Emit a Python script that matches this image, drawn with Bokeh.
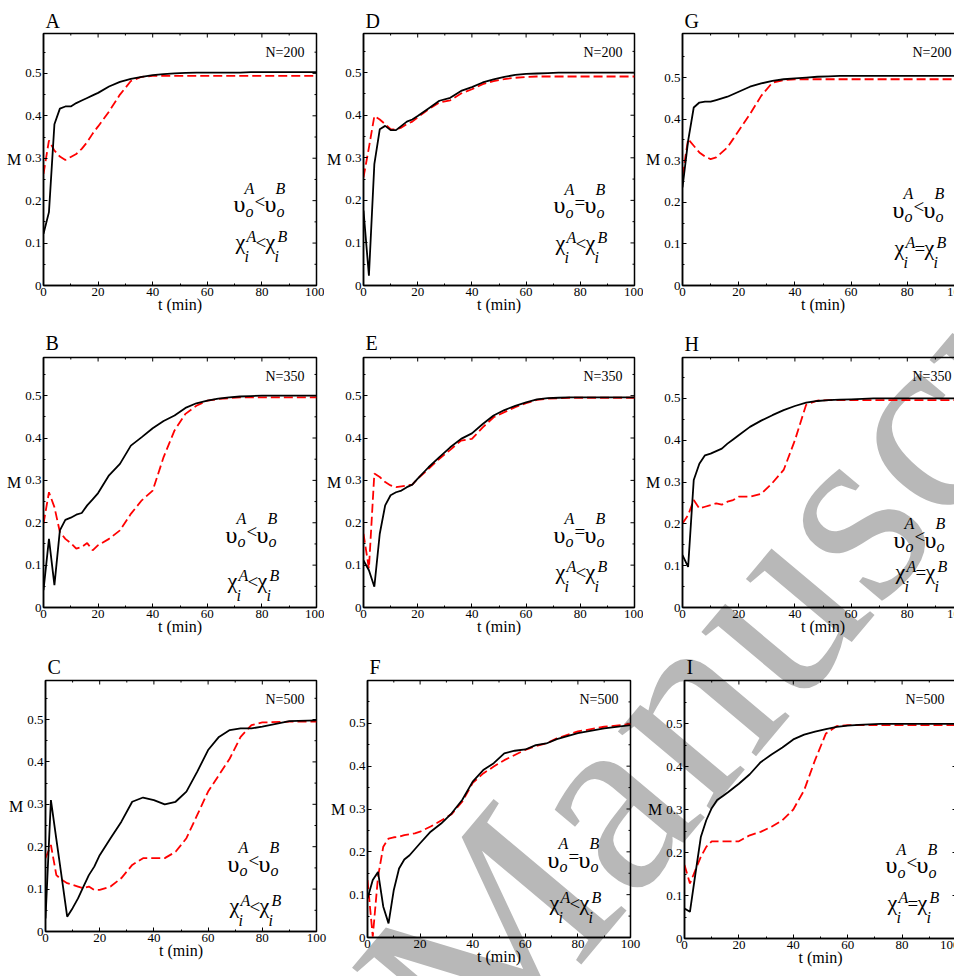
import math
from bokeh.plotting import figure
from bokeh.layouts import column, row
from bokeh.models import Label, FixedTicker, Range1d
from bokeh.core.properties import value
from bokeh.embed import file_html
from bokeh.resources import INLINE

# ---------------- data ----------------
t = [0, 2, 4, 6, 8, 10, 12, 14, 16, 18, 20, 24, 28, 32, 36, 40, 44, 48, 52, 56,
     60, 64, 68, 72, 76, 80, 90, 100]

a_black = [0.122, 0.173, 0.380, 0.417, 0.422, 0.422, 0.430, 0.436, 0.442, 0.448, 0.454, 0.469, 0.480, 0.487,
           0.492, 0.496, 0.498, 0.500, 0.501, 0.502, 0.502, 0.502, 0.502, 0.502, 0.503, 0.503, 0.503, 0.503]
a_red = [0.263, 0.342, 0.318, 0.304, 0.296, 0.303, 0.310, 0.322, 0.338, 0.358, 0.375, 0.410, 0.450, 0.482,
         0.492, 0.494, 0.494, 0.494, 0.494, 0.494, 0.494, 0.494, 0.494, 0.494, 0.494, 0.494, 0.494, 0.494]

b_black = [0.041, 0.162, 0.053, 0.182, 0.207, 0.212, 0.219, 0.223, 0.241, 0.255, 0.270, 0.312, 0.339, 0.382,
           0.402, 0.423, 0.440, 0.453, 0.471, 0.482, 0.488, 0.493, 0.496, 0.498, 0.499, 0.500, 0.500, 0.500]
b_red = [0.198, 0.272, 0.237, 0.178, 0.162, 0.152, 0.139, 0.143, 0.152, 0.135, 0.147, 0.162, 0.182, 0.221,
         0.253, 0.276, 0.355, 0.418, 0.457, 0.476, 0.488, 0.492, 0.494, 0.496, 0.496, 0.496, 0.496, 0.496]

c_black = [0.031, 0.310, 0.218, 0.127, 0.035, 0.055, 0.078, 0.106, 0.133, 0.153, 0.180, 0.220, 0.259, 0.306,
           0.316, 0.310, 0.300, 0.306, 0.330, 0.377, 0.428, 0.459, 0.475, 0.479, 0.479, 0.483, 0.496, 0.498]
c_red = [0.173, 0.204, 0.133, 0.122, 0.114, 0.110, 0.106, 0.102, 0.106, 0.098, 0.098, 0.106, 0.126, 0.157,
         0.173, 0.173, 0.173, 0.188, 0.220, 0.275, 0.330, 0.369, 0.408, 0.459, 0.487, 0.493, 0.495, 0.495]

d_black = [0.176, 0.023, 0.285, 0.367, 0.375, 0.365, 0.365, 0.375, 0.385, 0.390, 0.398, 0.416, 0.434, 0.441,
           0.457, 0.466, 0.477, 0.484, 0.490, 0.495, 0.497, 0.498, 0.499, 0.500, 0.500, 0.500, 0.500, 0.500]
d_red = [0.254, 0.324, 0.398, 0.390, 0.379, 0.367, 0.367, 0.371, 0.379, 0.385, 0.395, 0.414, 0.430, 0.435,
         0.451, 0.461, 0.473, 0.480, 0.485, 0.488, 0.490, 0.491, 0.491, 0.491, 0.491, 0.491, 0.491, 0.491]

e_black = [0.111, 0.088, 0.049, 0.174, 0.241, 0.265, 0.272, 0.276, 0.284, 0.290, 0.304, 0.331, 0.355, 0.378,
           0.398, 0.411, 0.433, 0.453, 0.466, 0.476, 0.484, 0.491, 0.494, 0.495, 0.496, 0.496, 0.496, 0.496]
e_red = [0.174, 0.092, 0.316, 0.308, 0.296, 0.288, 0.284, 0.286, 0.288, 0.290, 0.304, 0.327, 0.351, 0.372,
         0.394, 0.398, 0.425, 0.449, 0.461, 0.473, 0.482, 0.490, 0.493, 0.494, 0.495, 0.495, 0.495, 0.495]

f_black = [0.091, 0.134, 0.153, 0.072, 0.033, 0.111, 0.161, 0.182, 0.192, 0.206, 0.220, 0.247, 0.266, 0.290,
           0.321, 0.364, 0.391, 0.407, 0.430, 0.436, 0.439, 0.449, 0.453, 0.463, 0.470, 0.477, 0.488, 0.496]
f_red = [0.134, 0.002, 0.142, 0.212, 0.231, 0.234, 0.235, 0.239, 0.241, 0.243, 0.247, 0.259, 0.273, 0.288,
         0.317, 0.361, 0.383, 0.399, 0.414, 0.426, 0.438, 0.447, 0.453, 0.465, 0.473, 0.481, 0.492, 0.498]

g_black = [0.236, 0.348, 0.428, 0.440, 0.442, 0.442, 0.446, 0.450, 0.454, 0.460, 0.466, 0.478, 0.486, 0.492,
           0.496, 0.498, 0.500, 0.502, 0.503, 0.504, 0.504, 0.504, 0.504, 0.504, 0.504, 0.504, 0.504, 0.504]
g_red = [0.264, 0.352, 0.336, 0.320, 0.310, 0.304, 0.308, 0.320, 0.332, 0.352, 0.372, 0.412, 0.456, 0.488,
         0.494, 0.496, 0.496, 0.496, 0.496, 0.496, 0.496, 0.496, 0.496, 0.496, 0.496, 0.496, 0.496, 0.496]

h_black = [0.125, 0.097, 0.305, 0.344, 0.364, 0.368, 0.374, 0.380, 0.392, 0.402, 0.412, 0.432, 0.447, 0.460,
           0.472, 0.482, 0.490, 0.494, 0.496, 0.497, 0.498, 0.499, 0.500, 0.500, 0.500, 0.500, 0.500, 0.500]
h_red = [0.201, 0.221, 0.257, 0.237, 0.241, 0.245, 0.249, 0.246, 0.253, 0.257, 0.265, 0.265, 0.272, 0.298,
         0.329, 0.400, 0.485, 0.495, 0.496, 0.496, 0.496, 0.496, 0.496, 0.496, 0.496, 0.496, 0.496, 0.496]

i_black = [0.070, 0.062, 0.150, 0.236, 0.275, 0.303, 0.322, 0.331, 0.340, 0.350, 0.360, 0.382, 0.410, 0.428,
           0.444, 0.463, 0.474, 0.481, 0.487, 0.492, 0.495, 0.497, 0.498, 0.499, 0.499, 0.499, 0.499, 0.499]
i_red = [0.171, 0.128, 0.159, 0.190, 0.213, 0.226, 0.226, 0.226, 0.226, 0.226, 0.226, 0.240, 0.248, 0.260,
         0.275, 0.300, 0.345, 0.415, 0.477, 0.494, 0.496, 0.496, 0.496, 0.496, 0.496, 0.496, 0.496, 0.496]

panel_names = ["A", "B", "C", "D", "E", "F", "G", "H", "I"]
population = ["N=200", "N=350", "N=500", "N=200", "N=350", "N=500", "N=200", "N=350", "N=500"]
upsilon_rel = ["<", "<", "<", "=", "=", "=", "<", "<", "<"]
chi_rel = ["<", "<", "<", "<", "<", "<", "=", "=", "="]
watermark_text = "Manuscript"

x_ticks = [0, 20, 40, 60, 80, 100]
x_minor = [10, 30, 50, 70, 90]
y_ticks = [0, 0.1, 0.2, 0.3, 0.4, 0.5]
y_tick_labels = ["0", "0.1", "0.2", "0.3", "0.4", "0.5"]
y_minor = [0.05, 0.15, 0.25, 0.35, 0.45, 0.55]

series = {"A": (a_black, a_red), "B": (b_black, b_red), "C": (c_black, c_red),
          "D": (d_black, d_red), "E": (e_black, e_red), "F": (f_black, f_red),
          "G": (g_black, g_red), "H": (h_black, h_red), "I": (i_black, i_red)}

# ---------------- layout / style ----------------
FONT = "Liberation Serif"
PAGE_W, PAGE_H = 954, 976
# name: (border_left, frame_w, border_right, border_top, frame_h, border_bottom, y_end, title_standoff)
geom = {
    "A": (43, 273, 8, 33, 252, 40, 0.594, 3),
    "D": (33, 271, 9, 33, 252, 40, 0.592, 4),
    "G": (33, 281, 3, 33, 252, 40, 0.606, 3),
    "B": (43, 273, 8, 32, 250, 38, 0.590, 7),
    "E": (33, 271, 9, 32, 250, 38, 0.590, 7),
    "H": (33, 281, 3, 32, 250, 38, 0.598, 6),
    "C": (45, 271, 12, 34, 251, 46, 0.592, 5),
    "F": (37, 263, 15, 35, 257, 39, 0.600, 6),
    "I": (36, 272, 3, 35, 258, 38, 0.600, 6),
}
# formula anchor: x (data), baseline line 1 (data), baseline line 2 (data)
formula_pos = {
    "A": (69.6, 0.191, 0.104), "D": (70.1, 0.188, 0.101), "G": (74.7, 0.182, 0.091),
    "B": (66.7, 0.172, 0.064), "E": (70.1, 0.172, 0.085), "H": (75.1, 0.162, 0.086),
    "C": (67.2, 0.160, 0.062), "F": (68.4, 0.182, 0.082), "I": (73.9, 0.170, 0.084),
}
# watermark placement on the page (pixels) : start of baseline, angle, size
WM_X, WM_Y, WM_ANGLE, WM_SIZE = 411, 1027, math.radians(50), 265


def style_axis(ax, ticks, minor, overrides=None):
    ax.ticker = FixedTicker(ticks=ticks, minor_ticks=minor)
    ax.axis_line_color = "black"
    ax.axis_line_width = 1.5
    ax.major_tick_in = 4
    ax.major_tick_out = 0
    ax.minor_tick_in = 2
    ax.minor_tick_out = 0
    ax.major_tick_line_color = "black"
    ax.minor_tick_line_color = "black"
    ax.major_tick_line_width = 1
    ax.minor_tick_line_width = 1
    ax.major_label_text_font = FONT
    ax.major_label_text_font_size = "13px"
    ax.major_label_text_color = "black"
    ax.major_label_standoff = 2
    ax.axis_label_text_font = FONT
    ax.axis_label_text_font_size = "16px"
    ax.axis_label_text_font_style = "normal"
    ax.axis_label_text_color = "black"
    if overrides:
        ax.major_label_overrides = overrides


def add_text(p, x, y, text, size, dx=0, dy=0, align="left", baseline="alphabetic", style="normal"):
    p.add_layout(Label(x=x, y=y, x_offset=dx, y_offset=dy, text=text, text_font=FONT,
                       text_font_size=f"{size}px", text_font_style=style, text_color="black",
                       text_align=align, text_baseline=baseline))


def add_formula(p, name, rel1, rel2):
    fx, y1, y2 = formula_pos[name]
    # line 1: upsilon_o^A rel upsilon_o^B
    add_text(p, fx, y1, "\u03c5", 24, dx=0)
    add_text(p, fx, y1, "o", 16, dx=12, dy=-7, style="italic")
    add_text(p, fx, y1, "A", 16, dx=11, dy=16, style="italic")
    add_text(p, fx, y1, rel1, 19, dx=21, dy=3)
    add_text(p, fx, y1, "\u03c5", 24, dx=31)
    add_text(p, fx, y1, "o", 16, dx=43, dy=-7, style="italic")
    add_text(p, fx, y1, "B", 16, dx=42, dy=16, style="italic")
    # line 2: chi_i^A rel chi_i^B
    add_text(p, fx, y2, "\u03c7", 22, dx=2)
    add_text(p, fx, y2, "i", 16, dx=11, dy=-15, style="italic")
    add_text(p, fx, y2, "A", 16, dx=13, dy=5, style="italic")
    add_text(p, fx, y2, rel2, 19, dx=22, dy=-1)
    add_text(p, fx, y2, "\u03c7", 22, dx=32)
    add_text(p, fx, y2, "i", 16, dx=41, dy=-15, style="italic")
    add_text(p, fx, y2, "B", 16, dx=44, dy=5, style="italic")


def make_panel(k):
    name = panel_names[k]
    bl, fw, br, bt, fh, bb, y_end, standoff = geom[name]
    black, red = series[name]
    p = figure(frame_width=fw, frame_height=fh, min_border_left=bl, min_border_right=br,
               min_border_top=bt, min_border_bottom=bb,
               x_range=Range1d(0, 100), y_range=Range1d(0, y_end),
               output_backend="svg", toolbar_location=None, tools="", title=name)
    p.grid.visible = False
    p.background_fill_alpha = 0
    p.border_fill_alpha = 0
    p.outline_line_color = "black"
    p.outline_line_width = 1.5

    p.title.align = "left"
    p.title.text_font = FONT
    p.title.text_font_size = "20px"
    p.title.text_font_style = "normal"
    p.title.text_color = "black"
    p.title.standoff = standoff
    p.title.offset = 2

    xax = p.xaxis[0]
    yax = p.yaxis[0]
    style_axis(xax, x_ticks, x_minor)
    style_axis(yax, y_ticks, y_minor, {v: s for v, s in zip(y_ticks, y_tick_labels)})
    xax.axis_label = "t (min)"
    xax.axis_label_standoff = -3
    yax.axis_label = "M"
    yax.axis_label_standoff = 1
    if "axis_label_orientation" in yax.properties():
        yax.axis_label_orientation = "horizontal"

    # mirrored inward ticks on the top and right edges of the box
    p.ray(x=x_ticks, y=[y_end] * len(x_ticks), length=4, length_units="screen",
          angle=-math.pi / 2, line_color="black", line_width=1)
    p.ray(x=x_minor, y=[y_end] * len(x_minor), length=2, length_units="screen",
          angle=-math.pi / 2, line_color="black", line_width=1)
    p.ray(x=[100] * len(y_ticks), y=y_ticks, length=4, length_units="screen",
          angle=math.pi, line_color="black", line_width=1)
    p.ray(x=[100] * len(y_minor), y=y_minor, length=2, length_units="screen",
          angle=math.pi, line_color="black", line_width=1)

    p.line(t, red, line_color="#ff0000", line_width=1.8, line_dash="9 4")
    p.line(t, black, line_color="black", line_width=1.8)

    add_text(p, 100, y_end, population[k], 14, dx=-12, dy=-19, align="right")
    add_formula(p, name, upsilon_rel[k], chi_rel[k])
    return p


panels = [make_panel(k) for k in range(9)]
grid = column(
    row(panels[0], panels[3], panels[6]),
    row(panels[1], panels[4], panels[7]),
    row(panels[2], panels[5], panels[8]),
)
grid.styles = {"position": "relative", "z-index": "1"}

# background page carrying the grey watermark, placed underneath the panels
wm = figure(width=PAGE_W, height=PAGE_H, x_range=Range1d(0, PAGE_W), y_range=Range1d(PAGE_H, 0),
            min_border=0, output_backend="svg", toolbar_location=None, tools="",
            x_axis_type=None, y_axis_type=None)
wm.grid.visible = False
wm.outline_line_color = None
wm.background_fill_color = "white"
wm.border_fill_color = "white"
wm.text(x=[WM_X], y=[WM_Y], text=[watermark_text], angle=WM_ANGLE,
        text_font=value("Liberation Serif"), text_font_size=f"{WM_SIZE}px",
        text_color="#b8b8b8", text_align="left", text_baseline="alphabetic")
wm.styles = {"position": "absolute", "left": "0px", "top": "0px", "z-index": "0"}

page = column(wm, grid)
page.styles = {"position": "relative"}

open("out.html", "w").write(file_html(page, INLINE))
